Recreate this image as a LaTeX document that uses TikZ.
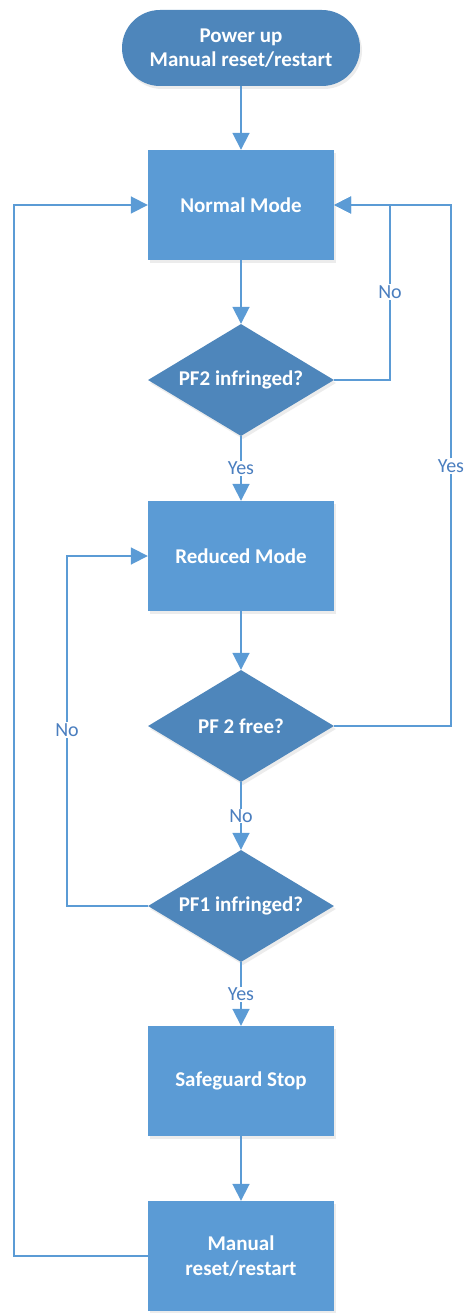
\documentclass[tikz,border=0pt]{standalone}
\usepackage{fontspec}
\setmainfont{Carlito}
\usetikzlibrary{shapes.geometric,arrows.meta,shadows}

\definecolor{boxblue}{HTML}{5B9BD5}
\definecolor{decblue}{HTML}{4E86BB}
\definecolor{txtblue}{HTML}{4A7EBF}

\begin{document}
\begin{tikzpicture}[x=1pt,y=-1pt,
    box/.style={rectangle, fill=boxblue, minimum width=186pt, minimum height=110pt,
        text=white, align=center, font=\bfseries\fontsize{21}{25}\selectfont,
        drop shadow={opacity=0.15,shadow xshift=2pt,shadow yshift=-3pt}},
    decision/.style={diamond, aspect=1.7, inner sep=0pt, fill=decblue,
        minimum width=186pt, minimum height=112pt,
        text=white, font=\bfseries\fontsize{21}{25}\selectfont,
        drop shadow={opacity=0.15,shadow xshift=2pt,shadow yshift=-3pt}},
    terminal/.style={rectangle, rounded corners=38pt, fill=decblue,
        minimum width=238pt, minimum height=76pt,
        text=white, align=center, font=\bfseries\fontsize{21}{24}\selectfont,
        drop shadow={opacity=0.15,shadow xshift=2pt,shadow yshift=-3pt}},
    flow/.style={draw=boxblue, line width=1.8pt, -{Triangle[length=17pt,width=17pt]}},
    answer/.style={fill=white, text=txtblue, inner sep=1pt, font=\fontsize{20}{22}\selectfont}
    ]
\useasboundingbox (0,0) rectangle (465,1313);

\node[terminal] (start) at (241,48) {Power up\\Manual reset/restart};
\node[box] (normal) at (241,205) {Normal Mode};
\node[decision] (pftwo) at (241,380) {PF2 infringed?};
\node[box] (reduced) at (241,556) {Reduced Mode};
\node[decision] (pffree) at (241,726) {PF 2 free?};
\node[decision] (pfone) at (241,906) {PF1 infringed?};
\node[box] (stop) at (241,1081) {Safeguard Stop};
\node[box] (manual) at (241,1256) {Manual\\reset/restart};

\node[answer] (notwo) at (390,292) {No};
\node[answer] (yesfree) at (451,466) {Yes};
\node[answer] (noone) at (67,730) {No};
\coordinate (rail) at (14,1256);

\draw[flow] (start) -- (normal);
\draw[flow] (normal) -- (pftwo);
\draw[flow] (pftwo) -- node[answer] (yestwo) {Yes} (reduced);
\draw[flow] (reduced) -- (pffree);
\draw[flow] (pffree) -- node[answer] (nofree) {No} (pfone);
\draw[flow] (pfone) -- node[answer] (yesone) {Yes} (stop);
\draw[flow] (stop) -- (manual);

\draw[flow] (pftwo.east) -| (notwo) |- (normal.east);
\draw[flow] (pffree.east) -| (yesfree) |- (normal.east);
\draw[flow] (pfone.west) -| (noone) |- (reduced.west);
\draw[flow] (manual.west) -- (rail) |- (normal.west);
\end{tikzpicture}
\end{document}
